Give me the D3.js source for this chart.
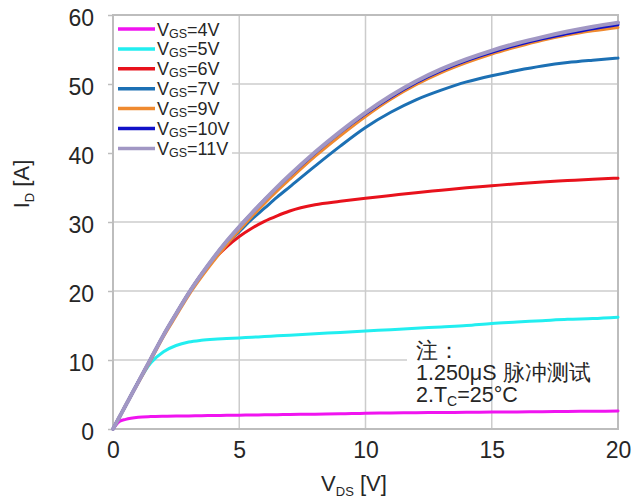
<!DOCTYPE html>
<html>
<head>
<meta charset="utf-8">
<script src="https://cdn.jsdelivr.net/npm/d3@7"></script>
<style>
  html, body { margin: 0; padding: 0; background: #fff; }
  svg { display: block; font-family: "Liberation Sans", Arial, sans-serif; }
</style>
</head>
<body>
<svg id="chart" width="633" height="500"></svg>
<script>
// ---- data ----
const vds = [0,0.25,0.5,1,1.5,2,2.5,3,3.5,4,4.5,5,5.5,6,6.5,7,8,9,10,11,12,13,14,15,16,17,18,19,20];
const id4  = [0,1.1,1.4,1.7,1.8,1.85,1.88,1.9,1.93,1.95,1.98,2.0,2.03,2.05,2.08,2.1,2.15,2.2,2.3,2.33,2.36,2.39,2.42,2.45,2.48,2.51,2.54,2.57,2.6];
const id5  = [0,1.7,3.4,6.8,9.6,11.2,12.1,12.6,12.85,13.0,13.1,13.2,13.3,13.4,13.5,13.6,13.8,14.0,14.2,14.4,14.6,14.8,15.0,15.3,15.5,15.7,15.9,16.0,16.2];
const id6  = [0,1.7,3.4,6.8,10.2,13.6,16.7,19.7,22.4,24.6,26.4,27.9,29.1,30.1,30.9,31.6,32.5,33.0,33.45,33.85,34.25,34.6,34.95,35.25,35.55,35.8,36.0,36.2,36.35];
const id7  = [0,1.7,3.4,6.8,10.2,13.6,16.7,19.7,22.3,24.7,26.8,28.6,30.4,32.0,33.6,35.1,38.1,41.0,43.7,45.9,47.7,49.1,50.3,51.2,51.95,52.6,53.1,53.45,53.75];
const id9  = [0,1.7,3.4,6.7,10.0,13.4,16.4,19.4,22.0,24.4,26.7,28.8,30.8,32.7,34.5,36.2,39.5,42.5,45.3,47.8,49.9,51.65,53.1,54.35,55.4,56.35,57.1,57.7,58.2];
const id10 = [0,1.7,3.4,6.8,10.2,13.6,16.7,19.7,22.4,24.9,27.2,29.3,31.3,33.2,35.0,36.7,40.0,43.0,45.7,48.1,50.2,51.95,53.4,54.6,55.65,56.55,57.3,58.0,58.6];
const id11 = [0,1.7,3.4,6.8,10.2,13.6,16.7,19.7,22.4,24.9,27.2,29.3,31.3,33.2,35.05,36.8,40.1,43.1,45.85,48.3,50.4,52.15,53.6,54.85,55.9,56.8,57.6,58.3,58.9];
const seriesNames = ["4V","5V","6V","7V","9V","10V","11V"];
const seriesValues = [id4, id5, id6, id7, id9, id10, id11];
const seriesColors = ["#f014f0","#22eef0","#e8121c","#1c70b4","#ef8a30","#1010c8","#a197c4"];
const xTicks = [0,5,10,15,20];
const yTicks = [0,10,20,30,40,50,60];
const noteLines = ["注：", "1.250μS 脉冲测试"];

// ---- layout ----
const svg = d3.select("#chart");
const x = d3.scaleLinear().domain([0,20]).range([113,618]);
const y = d3.scaleLinear().domain([0,60]).range([429,15]);
const textColor = "#262626";
const gridColor = "#cccccc";

// horizontal grid
svg.append("g").selectAll("line").data(yTicks).join("line")
  .attr("x1", x(0)).attr("x2", x(20))
  .attr("y1", d => y(d)).attr("y2", d => y(d))
  .attr("stroke", gridColor).attr("stroke-width", 1.5);

// note background box (covers horizontal grid)
svg.append("rect").attr("x", 407).attr("y", 340).attr("width", 211).attr("height", 66).attr("fill", "#fff");

// vertical grid
svg.append("g").selectAll("line").data(xTicks).join("line")
  .attr("x1", d => x(d)).attr("x2", d => x(d))
  .attr("y1", y(0)).attr("y2", y(60))
  .attr("stroke", gridColor).attr("stroke-width", 1.5);

// frame
svg.append("rect").attr("x", x(0)).attr("y", y(60))
  .attr("width", x(20) - x(0)).attr("height", y(0) - y(60))
  .attr("fill", "none").attr("stroke", "#bdbdbd").attr("stroke-width", 2);

// axes
const yAxis = svg.append("g").attr("transform", `translate(${x(0)},0)`)
  .call(d3.axisLeft(y).tickValues(yTicks).tickSize(5).tickPadding(14));
yAxis.select(".domain").remove();
yAxis.selectAll(".tick line").attr("stroke", "#bdbdbd").attr("stroke-width", 1.5);
yAxis.selectAll(".tick text").attr("font-size", 23).attr("fill", textColor)
  .attr("font-family", "Liberation Sans, Arial, sans-serif").attr("dy", "0.45em");

const xAxis = svg.append("g").attr("transform", `translate(0,${y(0)})`)
  .call(d3.axisBottom(x).tickValues(xTicks).tickSize(0).tickPadding(13));
xAxis.select(".domain").remove();
xAxis.selectAll(".tick text").attr("font-size", 23).attr("fill", textColor)
  .attr("font-family", "Liberation Sans, Arial, sans-serif");

// note text (over vertical grid)
const note = svg.append("g").attr("fill", textColor).attr("font-size", 21.5);
note.append("text").attr("x", 416).attr("y", 358).text(noteLines[0]);
note.append("text").attr("x", 416).attr("y", 380).text(noteLines[1]);
const t3 = note.append("text").attr("x", 416).attr("y", 402);
t3.append("tspan").text("2.T");
t3.append("tspan").attr("font-size", 14).attr("dy", 4).text("C");
t3.append("tspan").attr("dy", -4).text("=25°C");

// curves
const line = d3.line()
  .x((d, i) => x(vds[i]))
  .y(d => y(d))
  .curve(d3.curveMonotoneX);
svg.append("g").selectAll("path").data(seriesValues).join("path")
  .attr("d", d => line(d))
  .attr("fill", "none")
  .attr("stroke", (d, i) => seriesColors[i])
  .attr("stroke-width", (d, i) => i === 6 ? 4 : 3)
  .attr("stroke-linecap", "round");

// legend
svg.append("rect").attr("x", x(0) + 1).attr("y", y(60) + 1).attr("width", 118).attr("height", 146).attr("fill", "#fff");
const leg = svg.append("g").selectAll("g").data(seriesNames).join("g")
  .attr("transform", (d, i) => `translate(0,${29 + i * 19.9})`);
leg.append("line").attr("x1", 118).attr("x2", 155).attr("y1", 0).attr("y2", 0)
  .attr("stroke", (d, i) => seriesColors[i]).attr("stroke-width", 3.5);
const lt = leg.append("text").attr("x", 157).attr("y", 6.5).attr("font-size", 18).attr("fill", textColor);
lt.append("tspan").text("V");
lt.append("tspan").attr("font-size", 12.5).attr("dy", 2).text("GS");
lt.append("tspan").attr("dy", -2).text(d => "=" + d);

// axis titles
const yl = svg.append("text").attr("transform", "translate(29,184) rotate(-90)")
  .attr("text-anchor", "middle").attr("font-size", 22).attr("fill", textColor);
yl.append("tspan").text("I");
yl.append("tspan").attr("font-size", 13).attr("dy", 5).text("D");
yl.append("tspan").attr("dy", -5).text(" [A]");

const xl = svg.append("text").attr("x", 354).attr("y", 491)
  .attr("text-anchor", "middle").attr("font-size", 22).attr("fill", textColor);
xl.append("tspan").text("V");
xl.append("tspan").attr("font-size", 13).attr("dy", 5).text("DS");
xl.append("tspan").attr("dy", -5).text("  [V]");
</script>
</body>
</html>
